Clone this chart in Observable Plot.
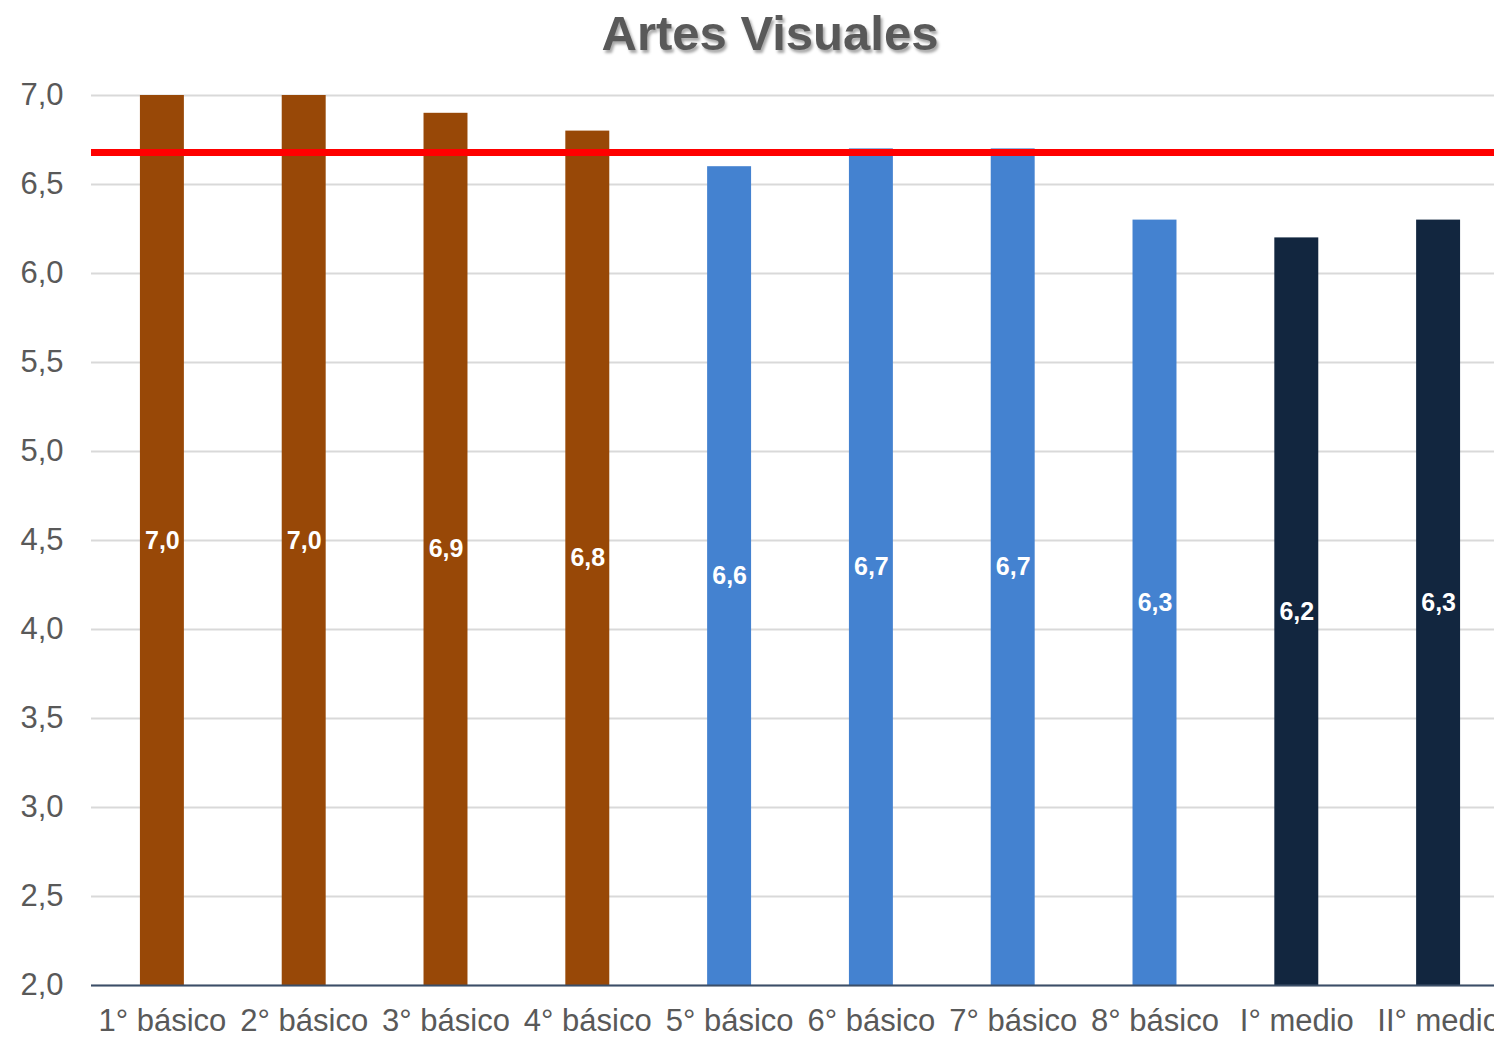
<!DOCTYPE html>
<html>
<head>
<meta charset="utf-8">
<script src="https://cdn.jsdelivr.net/npm/d3@7"></script>
<script src="https://cdn.jsdelivr.net/npm/@observablehq/plot@0.6"></script>
<style>
  body { margin: 0; background: #fff; font-family: Arial, "Liberation Sans", sans-serif; }
  #wrap { position: relative; width: 1494px; height: 1037px; overflow: hidden; }
  #title { position: absolute; left: 0; top: 0; width: 1540px; height: 60px; text-align: center;
           font: bold 49px Arial, "Liberation Sans", sans-serif; color: #595959; line-height: 66px;
           text-shadow: 2px 3px 3px rgba(0,0,0,0.35); }
  #chart { position: absolute; left: 0; top: 60px; }
</style>
</head>
<body>
<div id="wrap">
  <div id="title">Artes Visuales</div>
  <div id="chart"></div>
</div>
<script>
const categories = ["1° básico","2° básico","3° básico","4° básico","5° básico","6° básico","7° básico","8° básico","I° medio","II° medio"];
const values = [7.0, 7.0, 6.9, 6.8, 6.6, 6.7, 6.7, 6.3, 6.2, 6.3];
const groups = ["basica1","basica1","basica1","basica1","basica2","basica2","basica2","basica2","media","media"];
const groupColors = {basica1: "#984807", basica2: "#4482D0", media: "#12263F"};
const average = 6.68;
const yTicks = [2.0, 2.5, 3.0, 3.5, 4.0, 4.5, 5.0, 5.5, 6.0, 6.5, 7.0];

const data = categories.map((c, i) => ({cat: c, value: values[i], group: groups[i], mid: (2 + values[i]) / 2}));
const fmt = d => d.toFixed(1).replace(".", ",");

const chart = Plot.plot({
  width: 1494,
  height: 977,
  marginTop: 35,
  marginBottom: 52,
  marginLeft: 91,
  marginRight: 0,
  style: {fontFamily: "Arial, 'Liberation Sans', sans-serif", background: "white"},
  x: {domain: categories, range: [91, 1509], paddingInner: 0.69, paddingOuter: 0.345, round: false, label: null},
  y: {domain: [2, 7], label: null},
  marks: [
    Plot.gridY(yTicks, {stroke: "#d9d9d9", strokeOpacity: 1, strokeWidth: 2}),
    Plot.barY(data, {x: "cat", y1: 2, y2: "value", fill: d => groupColors[d.group]}),
    Plot.ruleY([2], {stroke: "#3b4e68", strokeWidth: 2}),
    Plot.ruleY([average], {stroke: "#ff0000", strokeWidth: 7}),
    Plot.text(data, {x: "cat", y: "mid", text: d => fmt(d.value), fill: "white", fontWeight: "bold", fontSize: 25}),
    Plot.axisY(yTicks, {tickSize: 0, tickPadding: 28, tickFormat: fmt, fontSize: 31, fill: "#595959", label: null}),
    Plot.axisX({tickSize: 0, tickPadding: 23, fontSize: 31, fill: "#595959", label: null})
  ]
});
document.getElementById("chart").appendChild(chart);
</script>
</body>
</html>
